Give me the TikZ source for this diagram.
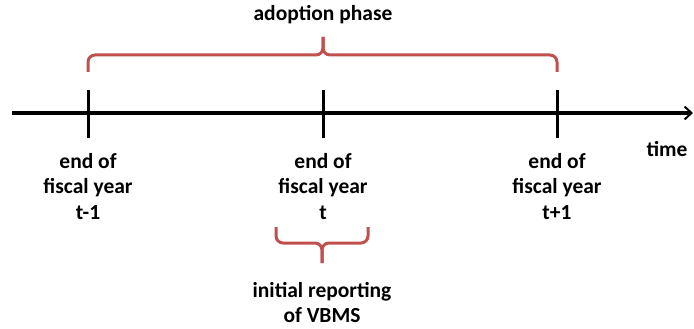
\documentclass[tikz,border=0pt]{standalone}
\usepackage{fontspec}
\setmainfont{Carlito}[BoldFont={Carlito Bold}]
\usepackage{tikz}
\usetikzlibrary{
	positioning,
	arrows.meta
}
\definecolor{bracered}{RGB}{192,80,77}

\begin{document}
\begin{tikzpicture}[x=1pt,y=-1pt,
		axisline/.style={line width=3pt,-{Straight Barb[length=7pt,width=13pt,line width=2pt]}},
		tickmark/.style={line width=3pt},
		bracket/.style={line width=3pt,bracered,rounded corners=7pt},
		lbl/.style={font=\bfseries\fontsize{21.5}{25.5}\selectfont,align=center,inner sep=0pt}
	]
		\useasboundingbox (0,0) rectangle (694,329);

		\coordinate (start) at (12,113);
		\coordinate (stop)  at (693,113);
		\coordinate (t0) at (88,113);
		\coordinate (t1) at (323,113);
		\coordinate (t2) at (557,113);

		\draw[axisline] (start) -- (stop);
		\foreach \t in {t0,t1,t2}
			\draw[tickmark] ([yshift=-25pt]\t) -- ([yshift=23pt]\t);

		\draw
			node[lbl,below=40pt of t0] (l0) {end of\\fiscal year\\t-1}
			node[lbl,below=40pt of t1] (l1) {end of\\fiscal year\\t}
			node[lbl,below=40pt of t2] (l2) {end of\\fiscal year\\t+1}
			node[lbl,anchor=base] (time) at (667,157) {time}
		;

		% big bracket
		\coordinate (bl) at (88,72);
		\coordinate (br) at (557,72);
		\coordinate (btip) at (323,37);
		\draw[bracket] (bl) -- (88,55) -- (323,55) -- (btip);
		\draw[bracket] (br) -- (557,55) -- (323,55) -- (btip);
		\node[lbl,anchor=base] (phase) at (323,21) {adoption phase};

		% small bracket
		\coordinate (sl) at (276,227);
		\coordinate (sr) at (368,227);
		\coordinate (stip) at (322,263);
		\draw[bracket] (sl) -- (276,243) -- (322,243) -- (stip);
		\draw[bracket] (sr) -- (368,243) -- (322,243) -- (stip);
		\node[lbl,below=19pt of stip] (report) {initial reporting\\of VBMS};
\end{tikzpicture}
\end{document}
